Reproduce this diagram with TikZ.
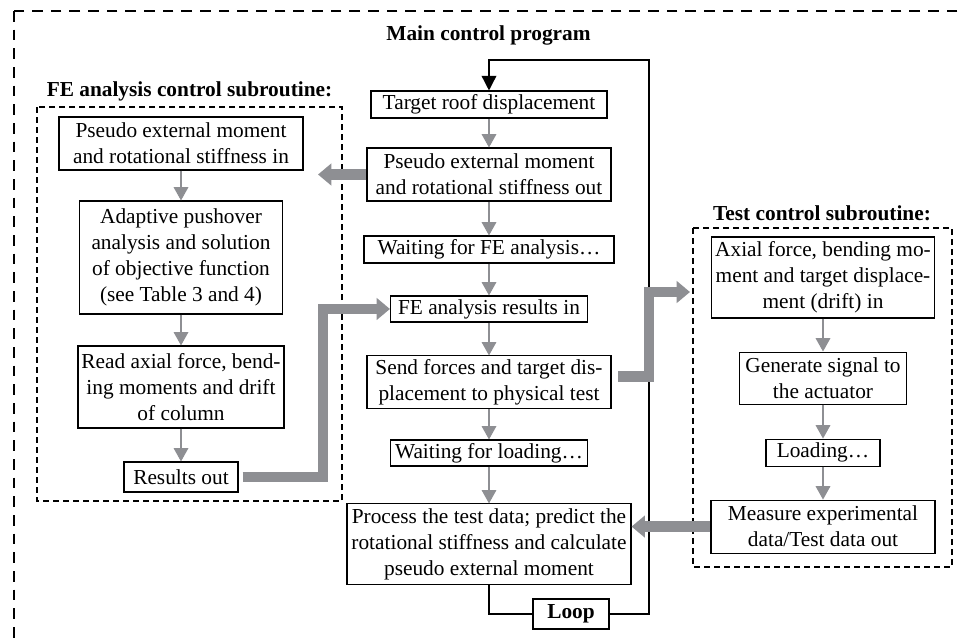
\documentclass[tikz,border=0pt]{standalone}
\usepackage{fontspec}
\setmainfont{Liberation Serif}
\usetikzlibrary{arrows.meta}
\definecolor{flowgray}{RGB}{142,143,147}
\tikzstyle{blk}=[draw, line width=0.8pt, align=center, inner sep=1pt, font=\fontsize{16}{19.5}\selectfont]
\tikzstyle{ttl}=[anchor=base, inner sep=0pt, font=\fontsize{16}{19.5}\selectfont\bfseries]
\tikzstyle{grp}=[draw, line width=0.8pt, dash pattern=on 4.5pt off 3pt]
\tikzstyle{flow}=[flowgray, line width=0.8pt, -{Triangle[width=11pt,length=10pt]}]
\tikzstyle{fat}=[flowgray, line width=8pt, line join=miter, -{Triangle[width=16pt,length=10pt]}]
\tikzstyle{loopline}=[black, line width=1.1pt]

\begin{document}
\begin{tikzpicture}[x=0.75pt, y=-0.75pt]
    \clip (0,0) rectangle (963,637);
    % outer frame and groups
    \draw[line width=1.6pt, dash pattern=on 8pt off 6pt] (14,11) rectangle (1010,700);
    \draw[grp] (37,107) rectangle (342,501);
    \draw[grp] (693,228) rectangle (952,567);
    \node[ttl] (mainT) at (488.5,40) {Main control program};
    \node[ttl] (feT) at (189.5,96.5) {FE analysis control subroutine:};
    \node[ttl] (testT) at (822,220) {Test control subroutine:};

    % main program
    \node[blk, minimum width=177pt, minimum height=20.25pt] (M1) at (489,104.5) {Target roof displacement};
    \node[blk, minimum width=183pt, minimum height=39.75pt, node distance=52.5pt, below of=M1] (M2) {Pseudo external moment\\and rotational stiffness out};
    \node[blk, minimum width=187.5pt, minimum height=20.25pt, node distance=56.25pt, below of=M2] (M3) {Waiting for FE analysis…};
    \node[blk, minimum width=147.75pt, minimum height=19.5pt, node distance=44.6pt, below of=M3] (M4) {FE analysis results in};
    \node[blk, minimum width=183pt, minimum height=39.75pt, node distance=55.1pt, below of=M4] (M5) {Send forces and target dis-\\placement to physical test};
    \node[blk, minimum width=147.75pt, minimum height=19.5pt, node distance=52.9pt, below of=M5] (M6) {Waiting for loading…};
    \node[blk, minimum width=213pt, minimum height=60.75pt, node distance=68.6pt, below of=M6] (M7) {Process the test data; predict the\\rotational stiffness and calculate\\pseudo external moment};
    \node[blk, font=\fontsize{16}{19.5}\selectfont\bfseries, minimum width=57pt, minimum height=22.5pt] (Loop) at (571,614) {Loop};

    % FE analysis subroutine
    \node[blk, minimum width=183pt, minimum height=39.75pt] (L1) at (181,143.5) {Pseudo external moment\\and rotational stiffness in};
    \node[blk, minimum width=152.25pt, minimum height=84.75pt, node distance=85.5pt, below of=L1] (L2) {Adaptive pushover\\analysis and solution\\of objective function\\(see Table 3 and 4)};
    \node[blk, minimum width=154.5pt, minimum height=61.5pt, node distance=97.1pt, below of=L2] (L3) {Read axial force, bend-\\ing moments and drift\\of column};
    \node[blk, minimum width=85.5pt, minimum height=22.5pt, node distance=67.5pt, below of=L3] (L4) {Results out};

    % test subroutine
    \node[blk, minimum width=167.25pt, minimum height=60.75pt] (R1) at (823,277.5) {Axial force, bending mo-\\ment and target displace-\\ment (drift) in};
    \node[blk, minimum width=125.25pt, minimum height=39pt, node distance=75.4pt, below of=R1] (R2) {Generate signal to\\the actuator};
    \node[blk, minimum width=85.5pt, minimum height=20.25pt, node distance=55.9pt, below of=R2] (R3) {Loading…};
    \node[blk, minimum width=168pt, minimum height=39.75pt, node distance=55.5pt, below of=R3] (R4) {Measure experimental\\data/Test data out};

    % thin arrows
    \draw[flow] (M1) -- (M2);
    \draw[flow] (M2) -- (M3);
    \draw[flow] (M3) -- (M4);
    \draw[flow] (M4) -- (M5);
    \draw[flow] (M5) -- (M6);
    \draw[flow] (M6) -- (M7);
    \draw[flow] (L1) -- (L2);
    \draw[flow] (L2) -- (L3);
    \draw[flow] (L3) -- (L4);
    \draw[flow] (R1) -- (R2);
    \draw[flow] (R2) -- (R3);
    \draw[flow] (R3) -- (R4);

    % loop
    \coordinate (loopTR) at (649,60);
    \draw[loopline] (M7.south) |- (Loop.west);
    \draw[loopline, -{Triangle[width=11pt,length=11pt]}] (Loop.east) -| (loopTR) -| (M1.north);

    % data transfer
    \coordinate (feTip) at (318,173);
    \coordinate (feBend) at (323,0);
    \coordinate (testTip) at (690,292);
    \coordinate (testBend) at (649,0);
    \draw[fat] (M2.west) -- (M2.west -| feTip);
    \draw[fat] ([xshift=3pt]L4.east) -| (feBend |- M4.west) -- (M4.west);
    \draw[fat] ([xshift=5pt,yshift=4.5pt]M5.east) -| (testBend |- testTip) -- (testTip);
    \draw[fat] (R4.west) -- (R4.west -| M7.east);
\end{tikzpicture}
\end{document}
